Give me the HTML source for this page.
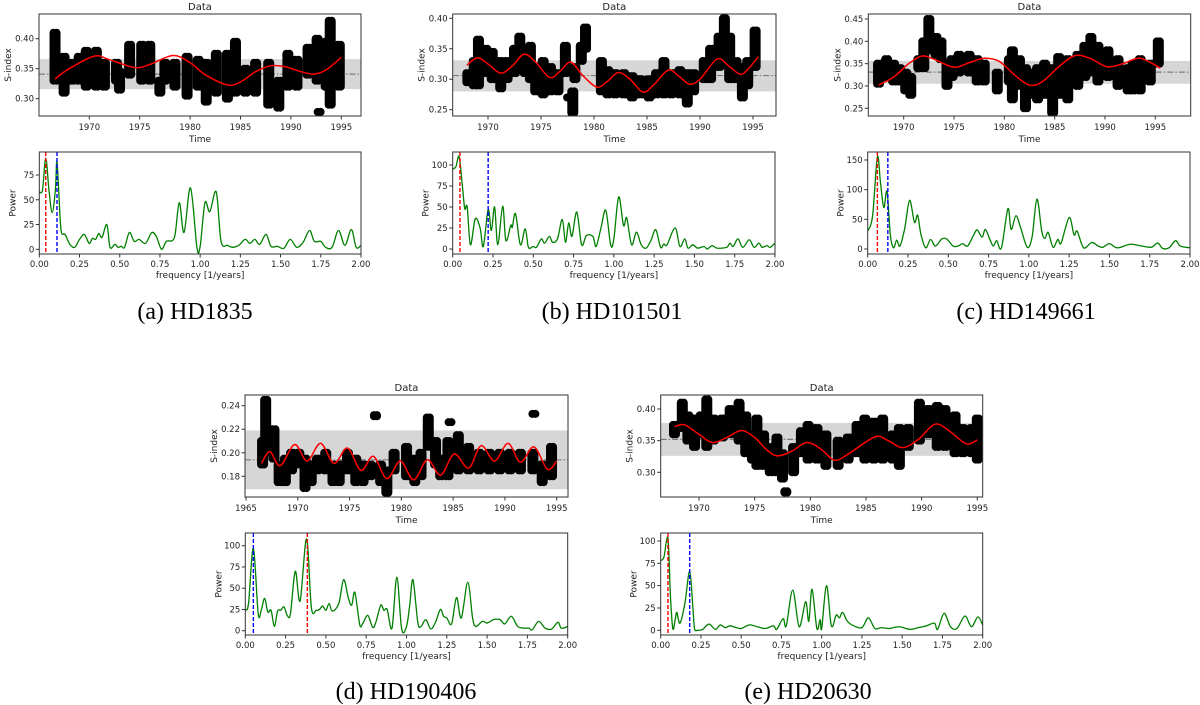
<!DOCTYPE html>
<html><head><meta charset="utf-8">
<style>
html,body{margin:0;padding:0;background:#fff;}
svg{display:block;font-family:"DejaVu Sans","Liberation Sans",sans-serif;}
.cap{font-family:"Liberation Serif",serif;font-size:24px;fill:#000;}
</style></head>
<body>
<svg id="fig" width="1200" height="705" viewBox="0 0 1200 705" xmlns="http://www.w3.org/2000/svg">
<text class="cap" x="195" y="319" text-anchor="middle">(a) HD1835</text>
<text class="cap" x="612" y="319" text-anchor="middle">(b) HD101501</text>
<text class="cap" x="1026" y="319" text-anchor="middle">(c) HD149661</text>
<text class="cap" x="406" y="699" text-anchor="middle">(d) HD190406</text>
<text class="cap" x="808" y="699" text-anchor="middle">(e) HD20630</text>
</svg>
<script>
// ===== Panel (a) HD1835 =====
const aClusters=[[1966.6,.33,.41],[1967.5,.31,.37],[1968.3,.33,.36],[1969,.33,.37],[1969.7,.32,.38],[1970.7,.32,.38],[1971.5,.32,.36],[1972.7,.33,.36],[1973,.315,.345],[1974,.34,.39],[1975.2,.33,.39],[1976,.33,.39],[1977,.31,.33],[1977.5,.33,.36],[1978.5,.32,.36],[1979.7,.305,.37],[1980.8,.32,.365],[1981.6,.295,.36],[1982.6,.31,.375],[1983.7,.30,.375],[1984.5,.31,.395],[1985.5,.31,.35],[1986.5,.31,.36],[1987.8,.29,.36],[1988.8,.285,.33],[1989.7,.32,.375],[1990.6,.32,.365],[1991.7,.34,.385],[1992.6,.33,.40],[1992.8,.278,.278],[1993.5,.32,.395],[1993.9,.29,.43],[1994.8,.32,.39]];
const aFitYears=[1966.6,1968,1970.5,1972,1974.5,1976,1978.3,1980,1981.5,1983.7,1985,1986.5,1988,1989.5,1991,1992.3,1993.5,1995];
const aFitValues=[.333,.35,.371,.365,.352,.357,.372,.36,.34,.323,.328,.345,.355,.353,.345,.341,.348,.369];
const aMean=.341, aBandLo=.316, aBandHi=.366;
const aFreq=[0,.02,.04,.06,.08,.10,.11,.13,.14,.16,.19,.22,.25,.28,.31,.33,.35,.37,.39,.42,.44,.47,.49,.51,.53,.56,.59,.62,.66,.70,.73,.76,.79,.84,.87,.90,.94,.98,1.00,1.03,1.06,1.10,1.13,1.17,1.20,1.24,1.28,1.31,1.34,1.37,1.41,1.44,1.48,1.52,1.56,1.60,1.64,1.68,1.71,1.75,1.78,1.82,1.86,1.90,1.94,1.97,2.00];
const aPower=[58,60,92,60,37,60,88,30,16,15,5,2,10,15,6,11,10,16,12,25,2,5,2,3,2,17,8,10,6,17,12,0,8,12,47,17,62,2,3,47,38,58,8,4,2,4,10,6,10,5,15,3,3,1,10,2,7,19,8,8,2,2,19,4,20,2,4];
const aPeakRed=.04, aPeakBlue=.11;
const aYTicks=[.30,.35,.40], aPTicks=[0,25,50,75];
// ===== Panel (b) HD101501 =====
const bClusters=[[1968.1,.295,.31],[1968.7,.29,.33],[1969.1,.29,.365],[1969.8,.31,.35],[1970.4,.30,.345],[1971.2,.285,.33],[1971.8,.30,.33],[1972.5,.31,.35],[1973,.32,.37],[1973.5,.31,.35],[1974,.30,.355],[1974.5,.28,.32],[1975.2,.275,.33],[1975.9,.28,.32],[1976.6,.28,.31],[1977.3,.31,.355],[1977.6,.27,.27],[1978,.245,.28],[1978.2,.30,.32],[1978.8,.33,.355],[1979.2,.35,.385],[1980.7,.28,.33],[1981.3,.275,.315],[1982,.275,.31],[1982.8,.275,.31],[1983.6,.27,.305],[1984.4,.275,.30],[1985.2,.27,.30],[1985.9,.275,.31],[1986.6,.275,.33],[1987.3,.275,.31],[1988.1,.275,.315],[1988.8,.26,.31],[1989.4,.28,.31],[1990.4,.30,.33],[1991,.30,.35],[1991.8,.32,.37],[1992.3,.34,.40],[1992.8,.30,.37],[1993.4,.30,.33],[1994,.27,.32],[1994.5,.29,.33],[1995.2,.32,.38]];
const bFitYears=[1968,1969,1970,1971.2,1972.3,1973.4,1974.5,1975.8,1976.8,1977.8,1979,1980.3,1981.3,1982.3,1983.4,1984.6,1985.6,1987,1988,1989,1990,1991.6,1992.7,1993.8,1994.6,1995.5];
const bFitValues=[.323,.335,.325,.31,.322,.341,.328,.303,.313,.328,.305,.287,.297,.311,.30,.279,.29,.315,.305,.292,.30,.333,.322,.308,.318,.337];
const bMean=.306, bBandLo=.280, bBandHi=.331;
const bFreq=[0,.02,.04,.06,.075,.09,.11,.14,.17,.19,.22,.24,.26,.28,.31,.33,.36,.37,.39,.42,.45,.47,.50,.52,.55,.57,.60,.62,.65,.68,.70,.72,.74,.77,.80,.83,.87,.89,.92,.95,.98,1.00,1.03,1.06,1.08,1.11,1.14,1.17,1.20,1.23,1.26,1.29,1.31,1.33,1.38,1.41,1.44,1.46,1.49,1.52,1.56,1.58,1.61,1.64,1.70,1.72,1.74,1.77,1.80,1.84,1.87,1.90,1.92,1.95,1.97,2.00];
const bPower=[95,98,110,75,48,50,5,36,25,3,47,22,50,5,51,10,28,26,42,5,24,2,3,2,12,7,15,8,12,35,8,31,15,44,5,16,15,3,25,46,5,12,62,28,37,5,20,5,1,10,23,2,6,5,25,3,12,1,5,1,3,0,4,1,2,7,3,12,2,11,2,7,2,4,2,7];
const bPeakRed=.045, bPeakBlue=.22;
const bYTicks=[.25,.30,.35,.40], bPTicks=[0,25,50,75,100];
// ===== Panel (c) HD149661 =====
const cClusters=[[1967.5,.305,.35],[1968.3,.32,.36],[1969,.31,.35],[1969.6,.31,.34],[1970.2,.29,.33],[1970.7,.28,.32],[1971.5,.34,.36],[1972,.34,.40],[1972.5,.38,.45],[1973.2,.37,.41],[1973.7,.36,.40],[1974.3,.30,.35],[1974.8,.32,.36],[1975.5,.33,.37],[1976.5,.33,.37],[1977.3,.31,.36],[1978,.31,.35],[1979.3,.29,.33],[1980.5,.31,.36],[1980.8,.27,.38],[1981.5,.30,.36],[1982.1,.25,.34],[1982.6,.28,.33],[1983.3,.27,.34],[1984,.28,.35],[1984.8,.24,.34],[1985.4,.28,.365],[1986.3,.27,.36],[1987.3,.30,.37],[1988,.32,.39],[1988.6,.33,.41],[1989.3,.31,.39],[1990.3,.32,.38],[1991.3,.30,.36],[1992.3,.29,.34],[1992.8,.29,.35],[1993.5,.29,.36],[1994.5,.31,.35],[1995.3,.35,.40]];
const cFitYears=[1967.5,1969,1970.5,1971.8,1973,1975,1976.5,1978,1979.5,1981,1982.5,1983.8,1985.5,1987,1988.5,1990.2,1991.8,1993.5,1995.5];
const cFitValues=[.302,.32,.35,.367,.36,.342,.352,.362,.355,.325,.302,.31,.345,.368,.362,.343,.35,.362,.34];
const cMean=.331, cBandLo=.305, cBandHi=.356;
const cFreq=[0,.03,.06,.08,.10,.12,.14,.16,.18,.20,.23,.26,.29,.31,.33,.36,.39,.42,.46,.49,.53,.56,.59,.62,.66,.68,.71,.73,.76,.78,.80,.83,.87,.89,.92,.95,.99,1.02,1.05,1.08,1.10,1.12,1.15,1.18,1.20,1.25,1.28,1.30,1.34,1.39,1.43,1.46,1.50,1.55,1.63,1.70,1.76,1.80,1.83,1.87,1.91,1.94,2.00];
const cPower=[30,55,155,110,70,97,25,2,15,5,35,82,45,57,25,2,16,5,17,17,5,5,9,5,25,32,20,33,15,5,14,2,68,33,56,35,3,20,84,30,18,28,3,16,10,53,24,30,2,11,5,3,9,2,8,5,3,10,1,2,14,5,2];
const cPeakRed=.06, cPeakBlue=.125;
const cYTicks=[.25,.30,.35,.40,.45], cPTicks=[0,50,100,150];
// ===== Panel (d) HD190406 =====
const dClusters=[[1966.6,.19,.21],[1966.9,.20,.245],[1967.7,.195,.22],[1968.2,.175,.19],[1968.8,.175,.195],[1969.4,.185,.20],[1970.1,.19,.20],[1970.7,.17,.195],[1971.3,.175,.19],[1971.9,.185,.195],[1972.7,.185,.20],[1973.4,.175,.19],[1974,.175,.19],[1974.8,.185,.20],[1975.6,.175,.195],[1976.3,.175,.19],[1977,.18,.19],[1977.5,.231,.232],[1978,.175,.19],[1978.6,.166,.185],[1979.3,.185,.20],[1980.5,.18,.205],[1981.3,.175,.195],[1981.9,.18,.20],[1982.6,.205,.23],[1983.3,.19,.21],[1983.8,.18,.195],[1984.5,.18,.21],[1984.7,.226,.226],[1985.5,.185,.215],[1986.5,.185,.205],[1987.5,.185,.20],[1988.5,.185,.20],[1989.5,.185,.20],[1990.5,.185,.20],[1991.5,.185,.20],[1992.7,.185,.20],[1992.8,.233,.233],[1993.6,.175,.19],[1994.5,.18,.205]];
const dFitYears=[1966.5,1967.3,1968.3,1969.7,1970.9,1972.2,1973.5,1974.8,1976.1,1977.3,1978.6,1979.9,1981.2,1982.5,1983.8,1985.1,1986.5,1987.7,1989,1990.3,1991.5,1992.8,1994.1,1995];
const dFitValues=[.191,.201,.189,.207,.193,.208,.191,.204,.185,.197,.178,.193,.177,.194,.181,.199,.187,.206,.193,.208,.192,.205,.186,.193];
const dMean=.194, dBandLo=.169, dBandHi=.219;
const dFreq=[0,.02,.05,.08,.10,.12,.14,.16,.18,.20,.22,.24,.26,.28,.31,.34,.38,.41,.44,.46,.48,.50,.52,.54,.58,.61,.64,.66,.68,.71,.73,.76,.79,.81,.84,.86,.88,.91,.94,.97,1.00,1.02,1.04,1.07,1.09,1.12,1.15,1.18,1.21,1.23,1.25,1.28,1.31,1.34,1.38,1.41,1.43,1.47,1.50,1.54,1.58,1.61,1.65,1.69,1.73,1.76,1.78,1.82,1.86,1.90,1.94,1.96,2.00];
const dPower=[25,32,97,20,25,38,22,24,5,23,24,28,18,20,70,35,108,27,24,25,29,24,32,23,32,60,38,30,45,7,9,18,4,10,30,24,25,3,63,2,5,30,60,10,5,13,2,10,25,17,15,8,39,15,57,15,5,11,9,13,13,8,17,5,3,3,1,11,3,2,10,3,5];
const dPeakRed=.385, dPeakBlue=.05;
const dYTicks=[.18,.20,.22,.24], dPTicks=[0,25,50,75,100];
// ===== Panel (e) HD20630 =====
const eClusters=[[1967.8,.36,.375],[1968.5,.37,.41],[1969,.35,.39],[1969.6,.34,.385],[1970.2,.36,.39],[1970.7,.34,.415],[1971.3,.35,.385],[1972.1,.355,.385],[1972.8,.36,.40],[1973.6,.35,.41],[1974.2,.33,.39],[1974.8,.32,.36],[1975.2,.31,.385],[1975.8,.31,.36],[1976.4,.30,.34],[1977,.30,.355],[1977.5,.29,.33],[1977.8,.268,.27],[1978.5,.30,.34],[1979.2,.33,.365],[1979.8,.32,.375],[1980.6,.32,.37],[1981.4,.31,.36],[1982.5,.31,.35],[1983.4,.32,.355],[1984.2,.33,.375],[1984.9,.32,.385],[1985.7,.32,.38],[1986.5,.32,.385],[1987.4,.32,.36],[1988,.31,.37],[1988.8,.34,.37],[1989.8,.35,.41],[1990.6,.36,.40],[1991.4,.34,.405],[1992.1,.34,.40],[1993,.33,.39],[1993.7,.33,.37],[1994.5,.33,.37],[1995,.32,.385]];
const eFitYears=[1967.8,1968.7,1970,1971.2,1972.5,1973.8,1975,1976,1977,1978.3,1979.7,1981,1982.2,1983.5,1985.8,1987,1988.3,1989.7,1991.2,1992.5,1994,1995];
const eFitValues=[.372,.375,.36,.347,.355,.366,.355,.337,.326,.333,.347,.336,.319,.33,.356,.35,.339,.352,.376,.365,.345,.351];
const eMean=.352, eBandLo=.326, eBandHi=.378;
const eFreq=[0,.02,.045,.06,.075,.09,.10,.12,.15,.18,.20,.21,.23,.26,.30,.34,.37,.40,.43,.47,.50,.55,.60,.65,.70,.72,.76,.78,.82,.86,.90,.92,.94,.97,.99,1.00,1.03,1.06,1.09,1.11,1.13,1.16,1.20,1.25,1.29,1.33,1.37,1.42,1.48,1.55,1.60,1.65,1.70,1.72,1.76,1.80,1.84,1.89,1.93,1.97,2.00];
const ePower=[78,82,103,40,2,12,20,8,30,66,25,2,0,1,7,1,6,3,5,3,2,6,4,2,5,1,13,5,45,4,32,10,46,2,12,2,50,5,17,14,20,10,5,3,14,2,3,2,4,1,3,5,8,1,19,4,2,16,4,15,6];
const ePeakRed=.045, ePeakBlue=.18;
const eYTicks=[.30,.35,.40], ePTicks=[0,25,50,75,100];

const yearTicks=[1970,1975,1980,1985,1990,1995];
const yearTicksD=[1965,1970,1975,1980,1985,1990,1995];
const freqTicks=[0,.25,.5,.75,1,1.25,1.5,1.75,2];

const NS="http://www.w3.org/2000/svg";
const svg=document.getElementById('fig');
function mk(tag,attrs,parent){const e=document.createElementNS(NS,tag);for(const k in attrs)e.setAttribute(k,attrs[k]);(parent||svg).appendChild(e);return e;}
function lin(v1,p1,v2,p2){return v=>p1+(v-v1)*(p2-p1)/(v2-v1);}
function smooth(pts){let d='M'+pts[0][0].toFixed(2)+','+pts[0][1].toFixed(2);
 for(let i=0;i<pts.length-1;i++){const p0=pts[Math.max(0,i-1)],p1=pts[i],p2=pts[i+1],p3=pts[Math.min(pts.length-1,i+2)];
  const c1=[p1[0]+(p2[0]-p0[0])/6,p1[1]+(p2[1]-p0[1])/6],c2=[p2[0]-(p3[0]-p1[0])/6,p2[1]-(p3[1]-p1[1])/6];
  d+='C'+c1[0].toFixed(2)+','+c1[1].toFixed(2)+' '+c2[0].toFixed(2)+','+c2[1].toFixed(2)+' '+p2[0].toFixed(2)+','+p2[1].toFixed(2);}
 return d;}
function fmt2(v){return v.toFixed(2);}

function panel(id,L){
 const g=mk('g',{});
 
 
 const [x0,y0,x1,y1]=L.box;
 const X=lin(...L.xcal), Y=lin(...L.ycal);
 const clip=mk('clipPath',{id:'clip'+id},g); mk('rect',{x:x0,y:y0,width:x1-x0,height:y1-y0},clip);
 const inner=mk('g',{'clip-path':'url(#clip'+id+')'},g);
 const band=mk('rect',{x:x0,y:Y(L.hi),width:x1-x0,height:Y(L.lo)-Y(L.hi),fill:'#d6d6d6'},inner);
 
 
 const ml=mk('line',{x1:x0,x2:x1,y1:Y(L.mean),y2:Y(L.mean),stroke:'#7a7a7a','stroke-width':1.2,'stroke-dasharray':'6 2 1.5 2'},inner);
 
 
 L.clusters.forEach(c=>{
  [-1.5,1.5].forEach(off=>{
   const m=mk('line',{x1:X(c[0])+off,x2:X(c[0])+off,y1:Y(c[1]),y2:Y(c[2]),stroke:'#000','stroke-width':8,'stroke-linecap':'round'},inner);
   
   
  });
 });
 const fit=mk('path',{d:smooth(L.fitY.map((y,i)=>[X(y),Y(L.fitV[i])])),fill:'none',stroke:'#f00','stroke-width':1.5},inner);
 
 
 const fr=mk('rect',{x:x0,y:y0,width:x1-x0,height:y1-y0,fill:'none',stroke:'#333','stroke-width':1},g);
 
 
 L.yTicks.forEach(v=>{const y=Y(v);mk('line',{x1:x0-3.5,x2:x0,y1:y,y2:y,stroke:'#333'},g);
  const t=mk('text',{x:x0-5,y:y+3,'font-size':8.5,'text-anchor':'end',fill:'#222'},g);t.textContent=fmt2(v);
  
  });
 L.xTicks.forEach(v=>{const x=X(v);mk('line',{x1:x,x2:x,y1:y1,y2:y1+3.5,stroke:'#333'},g);
  const t=mk('text',{x:x,y:y1+14,'font-size':8.5,'text-anchor':'middle',fill:'#222'},g);t.textContent=v;
  
  });
 const ti=mk('text',{x:(x0+x1)/2,y:y0-4,'font-size':10,'text-anchor':'middle',fill:'#222'},g);ti.textContent='Data';
 
 
 const xl=mk('text',{x:(x0+x1)/2,y:y1+26,'font-size':9,'text-anchor':'middle',fill:'#222'},g);xl.textContent='Time';
 
 
 const yl=mk('text',{x:0,y:0,'font-size':9,'text-anchor':'middle',fill:'#222',transform:'translate('+(x0-28)+','+((y0+y1)/2)+') rotate(-90)'},g);yl.textContent='S-index';
 
 
 // periodogram
 const [px0,py0,px1,py1]=L.pbox;
 const PX=lin(0,px0,2,px1), PY=lin(...L.pcal);
 const clip2=mk('clipPath',{id:'pclip'+id},g); mk('rect',{x:px0,y:py0,width:px1-px0,height:py1-py0},clip2);
 const pin=mk('g',{'clip-path':'url(#pclip'+id+')'},g);
 const pl=mk('path',{d:smooth(L.freq.map((f,i)=>[PX(f),PY(L.power[i])])),fill:'none',stroke:'#007f00','stroke-width':1.3},pin);
 
 
 const rl=mk('line',{x1:PX(L.red),x2:PX(L.red),y1:py0,y2:py1,stroke:'#f00','stroke-width':1.4,'stroke-dasharray':'4 2'},pin);
 
 
 const bl=mk('line',{x1:PX(L.blue),x2:PX(L.blue),y1:py0,y2:py1,stroke:'#00f','stroke-width':1.4,'stroke-dasharray':'4 2'},pin);
 
 
 const pf=mk('rect',{x:px0,y:py0,width:px1-px0,height:py1-py0,fill:'none',stroke:'#333','stroke-width':1},g);
 
 
 L.pTicks.forEach(v=>{const y=PY(v);mk('line',{x1:px0-3.5,x2:px0,y1:y,y2:y,stroke:'#333'},g);
  const t=mk('text',{x:px0-5,y:y+3,'font-size':8.5,'text-anchor':'end',fill:'#222'},g);t.textContent=v;
  
  });
 freqTicks.forEach(v=>{const x=PX(v);mk('line',{x1:x,x2:x,y1:py1,y2:py1+3.5,stroke:'#333'},g);
  const t=mk('text',{x:x,y:py1+13,'font-size':8.5,'text-anchor':'middle',fill:'#222'},g);t.textContent=fmt2(v);
  
  });
 const fl=mk('text',{x:(px0+px1)/2,y:py1+24,'font-size':9,'text-anchor':'middle',fill:'#222'},g);fl.textContent='frequency [1/years]';
 
 
 const pw=mk('text',{x:0,y:0,'font-size':9,'text-anchor':'middle',fill:'#222',transform:'translate('+(px0-24)+','+((py0+py1)/2)+') rotate(-90)'},g);pw.textContent='Power';
 
 
}

panel('a',{box:[39,14,361,116],xcal:[1970,89.3,1995,341.3],ycal:[.40,38.7,.30,98.7],clusters:aClusters,fitY:aFitYears,fitV:aFitValues,mean:aMean,lo:aBandLo,hi:aBandHi,yTicks:aYTicks,xTicks:yearTicks,
 pbox:[39.3,152,361,254],pcal:[0,249.3,75,175],freq:aFreq,power:aPower,red:aPeakRed,blue:aPeakBlue,pTicks:aPTicks});
panel('b',{box:[452.7,14,776,116],xcal:[1970,488,1995,753],ycal:[.40,18.3,.25,109.7],clusters:bClusters,fitY:bFitYears,fitV:bFitValues,mean:bMean,lo:bBandLo,hi:bBandHi,yTicks:bYTicks,xTicks:yearTicks,
 pbox:[452.7,152,775,254],pcal:[0,249,100,165],freq:bFreq,power:bPower,red:bPeakRed,blue:bPeakBlue,pTicks:bPTicks});
panel('c',{box:[868.3,14,1190.7,116],xcal:[1970,903.7,1995,1155.3],ycal:[.45,19,.25,108.3],clusters:cClusters,fitY:cFitYears,fitV:cFitValues,mean:cMean,lo:cBandLo,hi:cBandHi,yTicks:cYTicks,xTicks:yearTicks,
 pbox:[867.7,152,1190,254],pcal:[0,249,150,160],freq:cFreq,power:cPower,red:cPeakRed,blue:cPeakBlue,pTicks:cPTicks});
panel('d',{box:[245,395,568,497],xcal:[1965,246,1995,556.7],ycal:[.24,405.7,.18,476.3],clusters:dClusters,fitY:dFitYears,fitV:dFitValues,mean:dMean,lo:dBandLo,hi:dBandHi,yTicks:dYTicks,xTicks:yearTicksD,
 pbox:[245.3,533,567.7,635],pcal:[0,630.7,100,545.7],freq:dFreq,power:dPower,red:dPeakRed,blue:dPeakBlue,pTicks:dPTicks});
panel('e',{box:[660.7,395,982.7,497],xcal:[1970,699,1995,977.3],ycal:[.40,409,.30,472.3],clusters:eClusters,fitY:eFitYears,fitV:eFitValues,mean:eMean,lo:eBandLo,hi:eBandHi,yTicks:eYTicks,xTicks:yearTicks,
 pbox:[660.7,533,982.7,635],pcal:[0,630.3,100,541],freq:eFreq,power:ePower,red:ePeakRed,blue:ePeakBlue,pTicks:ePTicks});
</script>
</body></html>
